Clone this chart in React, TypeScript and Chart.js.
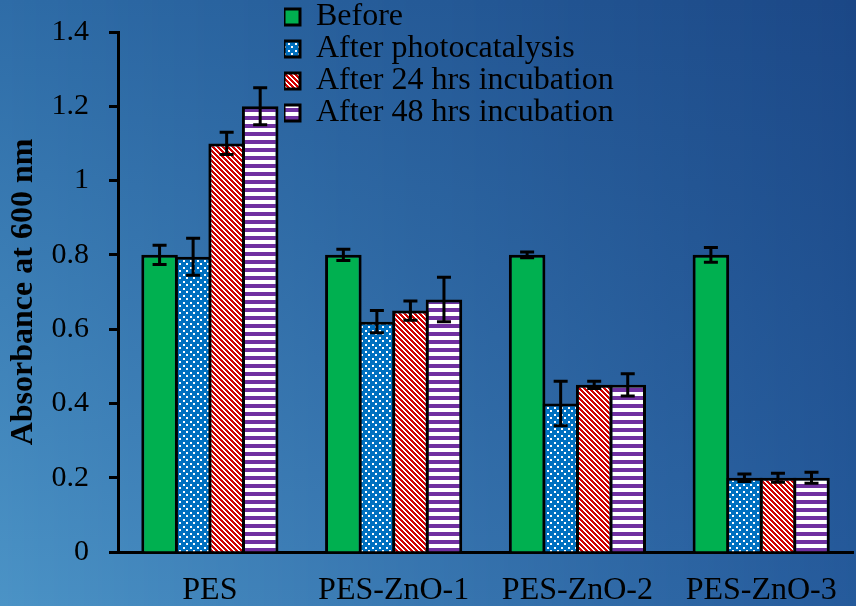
import React, { useEffect, useRef } from 'react';
import { Chart, registerables } from 'chart.js';

Chart.register(...registerables);

const categories = ['PES', 'PES-ZnO-1', 'PES-ZnO-2', 'PES-ZnO-3'];
const seriesNames = ['Before', 'After photocatalysis', 'After 24 hrs incubation', 'After 48 hrs incubation'];

const beforeValues = [0.8, 0.8, 0.8, 0.8];
const beforeErrors = [0.026, 0.015, 0.008, 0.02];
const photoValues = [0.795, 0.62, 0.4, 0.2];
const photoErrors = [0.05, 0.03, 0.06, 0.01];
const inc24Values = [1.1, 0.65, 0.45, 0.2];
const inc24Errors = [0.03, 0.026, 0.01, 0.012];
const inc48Values = [1.2, 0.68, 0.45, 0.2];
const inc48Errors = [0.05, 0.06, 0.03, 0.015];

const yTickValues = [0, 0.2, 0.4, 0.6, 0.8, 1.0, 1.2, 1.4];
const yTickLabels = ['0', '0.2', '0.4', '0.6', '0.8', '1', '1.2', '1.4'];
const yAxisTitle = 'Absorbance at 600 nm';

const FONT = "'Liberation Serif', 'Times New Roman', serif";

function makePattern(
  ctx: CanvasRenderingContext2D,
  w: number,
  h: number,
  draw: (c: CanvasRenderingContext2D) => void
): CanvasPattern | string {
  const tile = document.createElement('canvas');
  tile.width = w;
  tile.height = h;
  const tctx = tile.getContext('2d')!;
  draw(tctx);
  return ctx.createPattern(tile, 'repeat') || '#000';
}

const lerp = (a: number[], b: number[], t: number) => a.map((v, i) => Math.round(v + (b[i] - v) * t));
const rgb = (c: number[]) => `rgb(${c[0]},${c[1]},${c[2]})`;

const backgroundPlugin = {
  id: 'bgGradient',
  beforeDraw(chart: any) {
    const { ctx, width, height } = chart;
    const TL = [46, 108, 167];
    const TR = [27, 71, 134];
    const BL = [75, 147, 198];
    const BR = [37, 90, 155];
    ctx.save();
    for (let x = 0; x < width; x += 2) {
      const t = x / width;
      const g = ctx.createLinearGradient(0, 0, 0, height);
      g.addColorStop(0, rgb(lerp(TL, TR, t)));
      g.addColorStop(1, rgb(lerp(BL, BR, t)));
      ctx.fillStyle = g;
      ctx.fillRect(x, 0, 2, height);
    }
    ctx.restore();
  },
};

const legendShiftPlugin = {
  id: 'legendShift',
  afterLayout(chart: any) {
    const lg = chart.legend;
    if (!lg) return;
    lg.left = 284;
    lg.top = 1;
    lg.right = lg.left + lg.width;
    lg.bottom = lg.top + lg.height;
  },
};

const errorBarPlugin = {
  id: 'errorBars',
  afterDatasetsDraw(chart: any) {
    const ctx = chart.ctx;
    const yScale = chart.scales.y;
    chart.data.datasets.forEach((ds: any, i: number) => {
      const meta = chart.getDatasetMeta(i);
      meta.data.forEach((bar: any, j: number) => {
        const v = ds.data[j];
        const e = ds.errors[j];
        const top = yScale.getPixelForValue(v + e);
        const bot = yScale.getPixelForValue(v - e);
        const x = bar.x;
        ctx.save();
        ctx.strokeStyle = '#000';
        ctx.lineWidth = 3;
        ctx.beginPath();
        ctx.moveTo(x, top);
        ctx.lineTo(x, bot);
        ctx.moveTo(x - 7, top);
        ctx.lineTo(x + 7, top);
        ctx.moveTo(x - 7, bot);
        ctx.lineTo(x + 7, bot);
        ctx.stroke();
        ctx.restore();
      });
    });
  },
};

export default function App() {
  const canvasRef = useRef<HTMLCanvasElement | null>(null);

  useEffect(() => {
    const canvas = canvasRef.current;
    if (!canvas) return;
    const ctx = canvas.getContext('2d')!;

    const green = '#00b050';
    const dots = makePattern(ctx, 7, 7, (c) => {
      c.fillStyle = '#0070c0';
      c.fillRect(0, 0, 7, 7);
      c.fillStyle = '#ffffff';
      c.fillRect(1, 1, 2, 2);
      c.fillRect(4, 4, 2, 2);
    });
    const diag = makePattern(ctx, 5, 5, (c) => {
      c.fillStyle = '#ffffff';
      c.fillRect(0, 0, 5, 5);
      c.fillStyle = '#d00000';
      for (let y = 0; y < 5; y++) {
        for (let x = 0; x < 5; x++) {
          if ((((x - y) % 5) + 5) % 5 < 3) c.fillRect(x, y, 1, 1);
        }
      }
    });
    const horiz = makePattern(ctx, 8, 8, (c) => {
      c.fillStyle = '#ffffff';
      c.fillRect(0, 0, 8, 8);
      c.fillStyle = '#7030a0';
      c.fillRect(0, 4, 8, 4);
    });

    const common = {
      borderColor: '#000',
      borderWidth: 3,
      categoryPercentage: 0.73,
      barPercentage: 1.09,
    };

    const chart = new Chart(canvas, {
      type: 'bar',
      data: {
        labels: categories,
        datasets: [
          { label: seriesNames[0], data: beforeValues, errors: beforeErrors, backgroundColor: green, ...common },
          { label: seriesNames[1], data: photoValues, errors: photoErrors, backgroundColor: dots, ...common },
          { label: seriesNames[2], data: inc24Values, errors: inc24Errors, backgroundColor: diag, ...common },
          { label: seriesNames[3], data: inc48Values, errors: inc48Errors, backgroundColor: horiz, ...common },
        ] as any,
      },
      options: {
        responsive: false,
        animation: false,
        layout: { padding: { top: 32, right: 2, bottom: 0, left: 0 } },
        plugins: {
          legend: {
            position: 'chartArea' as any,
            align: 'start',
            labels: {
              boxWidth: 16,
              boxHeight: 16,
              padding: 0,
              color: '#000',
              font: { family: FONT, size: 32 },
            },
          },
          tooltip: { enabled: false },
        },
        scales: {
          x: {
            grid: { display: false, drawTicks: false },
            border: { display: true, color: '#000', width: 3 },
            ticks: { color: '#000', padding: 19, font: { family: FONT, size: 32 } },
            afterFit: (s: any) => {
              s.height = 54;
            },
          },
          y: {
            min: 0,
            max: 1.4,
            afterBuildTicks: (s: any) => {
              s.ticks = yTickValues.map((v) => ({ value: v }));
            },
            grid: {
              drawOnChartArea: false,
              drawTicks: true,
              tickLength: 9,
              tickColor: '#000',
              tickWidth: 3,
              color: '#000',
            },
            border: { display: true, color: '#000', width: 3 },
            ticks: {
              color: '#000',
              padding: 20,
              font: { family: FONT, size: 30 },
              callback: (_v: any, i: number) => yTickLabels[i],
            },
            title: {
              display: true,
              text: yAxisTitle,
              color: '#000',
              font: { family: FONT, size: 32, weight: 'bold' },
              padding: { top: 5, bottom: 0 },
            },
            afterFit: (s: any) => {
              s.width = 118;
              s.paddingTop = 0;
              s.paddingBottom = 0;
            },
          },
        },
      } as any,
      plugins: [backgroundPlugin, legendShiftPlugin, errorBarPlugin],
    });

    return () => {
      chart.destroy();
    };
  }, []);

  return (
    <div style={{ position: 'fixed', left: 0, top: 0, width: 856, height: 606 }}>
      <canvas ref={canvasRef} width={856} height={606} style={{ display: 'block' }} />
    </div>
  );
}
